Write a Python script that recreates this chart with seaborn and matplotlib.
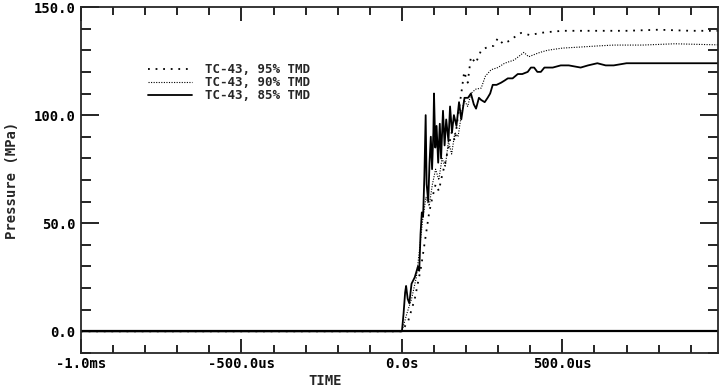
import matplotlib
matplotlib.use("Agg")
import matplotlib.pyplot as plt
from matplotlib.ticker import MultipleLocator, FixedLocator
import seaborn as sns
import pandas as pd

# ---- data (time in microseconds, pressure in MPa) ----
t_95 = [-1000, 0, 20, 40, 60, 75, 85, 95, 105, 115, 125, 135, 145, 155, 165, 175, 185,
        194, 205, 215, 230, 247, 267, 285, 299, 315, 330, 350, 371, 400, 430, 454, 500,
        600, 700, 800, 900, 985]
p_95 = [0, 0, 5, 15, 30, 45, 55, 62, 68, 65, 72, 78, 85, 92, 88, 100, 110,
        120, 115, 127, 124, 130, 131.5, 132, 135.6, 133, 134, 136, 138, 137, 138, 138.4, 139,
        139, 139, 139.5, 139, 139]

t_90 = [-1000, 0, 15, 30, 45, 55, 65, 75, 85, 95, 105, 115, 125, 135, 145, 155, 165, 175,
        185, 194, 205, 215, 230, 247, 260, 278, 299, 320, 350, 380, 395, 412, 430, 454, 500,
        557, 610, 660, 750, 850, 985]
p_90 = [0, 0, 8, 15, 25, 38, 52, 62, 58, 68, 75, 70, 80, 76, 88, 82, 92, 90,
        100, 107, 104, 110, 112, 112.5, 118, 121, 122, 124, 125.5, 129, 127, 128, 129, 130, 131,
        131.5, 132, 132.4, 132.4, 133, 132.5]

t_85 = [-1000, 0, 5, 10, 13, 18, 23, 30, 40, 50, 54, 58, 62, 66, 70, 74, 77, 82, 86, 90,
        94, 98, 100, 104, 108, 113, 118, 122, 128, 133, 138, 145, 150, 156, 162, 170, 178,
        185, 195, 206, 215, 224, 231, 240, 247, 258, 267, 275, 283, 295, 309, 320, 330, 345,
        361, 375, 392, 402, 412, 422, 433, 444, 454, 470, 495, 520, 557, 580, 609, 635, 660,
        700, 765, 800, 867, 920, 985]
p_85 = [0, 0, 8, 18, 21, 15, 13, 22, 25, 30, 28, 45, 55, 53, 72, 100, 68, 60, 78, 90,
        75, 92, 110, 85, 95, 78, 96, 80, 102, 86, 98, 88, 104, 92, 100, 95, 106,
        98, 108, 108, 110, 105, 103, 108, 107, 106, 108, 110, 114, 114, 115, 116, 117, 117,
        119, 119, 120, 122, 122, 120, 120, 122, 122, 122, 123, 123, 122, 123, 124, 123, 123,
        124, 124, 124, 124, 124, 124]

series_labels = ["TC-43, 95% TMD", "TC-43, 90% TMD", "TC-43, 85% TMD"]
x_tick_values = [-1000, -500, 0, 500]
x_tick_labels = ["-1.0ms", "-500.0us", "0.0s", "500.0us"]
y_tick_values = [0, 50, 100, 150]

sns.set_style("ticks")
FONT = ["DejaVu Sans Mono"]
plt.rcParams["font.family"] = FONT
plt.rcParams["font.weight"] = "bold"

fig = plt.figure(figsize=(7.19, 3.90), dpi=100)
ax = fig.add_axes([0.1127, 0.095, 0.8859, 0.887])

styles = [dict(linestyle=(0, (1, 3.2)), linewidth=1.3),
          dict(linestyle=(0, (1, 1.3)), linewidth=0.8),
          dict(linestyle="-", linewidth=1.3)]
for (tt, pp), lab, st in zip([(t_95, p_95), (t_90, p_90), (t_85, p_85)], series_labels, styles):
    df = pd.DataFrame({"t": tt, "p": pp})
    sns.lineplot(data=df, x="t", y="p", ax=ax, color="black", estimator=None,
                 sort=False, label=lab, **st)

ax.axhline(0, color="black", linewidth=1.6, zorder=1)

ax.set_xlim(-1000, 985)
ax.set_ylim(-10, 150)

ax.xaxis.set_major_locator(FixedLocator(x_tick_values))
ax.set_xticklabels(x_tick_labels)
ax.xaxis.set_minor_locator(MultipleLocator(100))
ax.yaxis.set_major_locator(FixedLocator(y_tick_values))
ax.set_yticklabels([f"{v:.1f}" for v in y_tick_values])
ax.yaxis.set_minor_locator(MultipleLocator(10))

for s in ax.spines.values():
    s.set_linewidth(1.3)
    s.set_visible(True)

ax.tick_params(axis="both", which="both", direction="in", top=True, right=True,
               colors="black", width=1.2, labelsize=10)
ax.tick_params(axis="x", which="major", length=10, pad=3)
ax.tick_params(axis="x", which="minor", length=6)
ax.tick_params(axis="y", which="major", length=13, pad=4)
ax.tick_params(axis="y", which="minor", length=7)

ax.set_xlabel("TIME", fontsize=10, fontweight="bold")
ax.xaxis.set_label_coords(0.383, -0.062)
ax.set_ylabel("Pressure (MPa)", fontsize=10, fontweight="bold")
ax.yaxis.set_label_coords(-0.098, 0.5)

leg = ax.legend(loc="upper left", bbox_to_anchor=(0.098, 0.852), frameon=False,
                handlelength=3.5, handletextpad=1.0, labelspacing=0.0,
                borderaxespad=0.0,
                prop={"family": FONT, "weight": "bold", "size": 9})
for line in leg.get_lines():
    line.set_color("black")

fig.savefig("out.png", dpi=100)
